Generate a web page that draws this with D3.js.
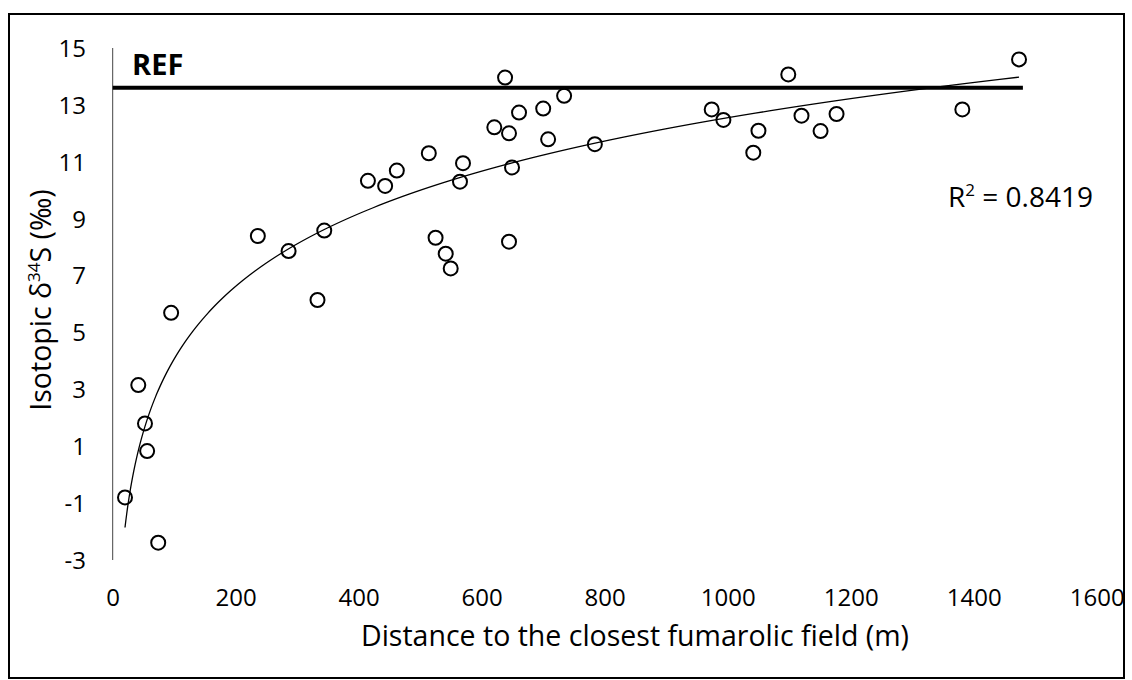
<!DOCTYPE html>
<html><head><meta charset="utf-8">
<script src="https://cdn.jsdelivr.net/npm/d3@7"></script>
<style>
html,body{margin:0;padding:0;background:#fff;}
text{font-family:"Open Sans",sans-serif;fill:#000;}
</style></head>
<body>
<svg id="chart" width="1132" height="680"></svg>
<script>
// ---- data ----
const distance = [20, 41.6, 52.5, 56, 74, 95, 236, 286, 333, 344, 415, 443, 462, 514, 525, 541.5, 549.6, 564.7, 569.6, 620.5, 638, 644.4, 644.4, 649.3, 660.7, 700, 708, 734, 784, 974, 993, 1041.6, 1050, 1098.5, 1120, 1151, 1177, 1381.5, 1473.7];
const delta34S = [-0.8, 3.15, 1.8, 0.83, -2.39, 5.69, 8.39, 7.86, 6.14, 8.58, 10.33, 10.15, 10.69, 11.3, 8.33, 7.77, 7.25, 10.3, 10.95, 12.21, 13.96, 12.0, 8.19, 10.8, 12.73, 12.87, 11.79, 13.32, 11.62, 12.84, 12.47, 11.32, 12.09, 14.07, 12.62, 12.08, 12.68, 12.84, 14.6];
const xTicks = [0, 200, 400, 600, 800, 1000, 1200, 1400, 1600];
const yTicks = [-3, -1, 1, 3, 5, 7, 9, 11, 13, 15];
const refValue = 13.6;
const refEndX = 1480;
const r2Label = "0.8419";

const svg = d3.select("#chart");
const x = d3.scaleLinear().domain([0, 1600]).range([112.7, 1096.7]);
const y = d3.scaleLinear().domain([-3, 15]).range([560, 48]);

// border
svg.append("rect").attr("x", 9).attr("y", 14).attr("width", 1115).attr("height", 664)
  .attr("fill", "none").attr("stroke", "#000").attr("stroke-width", 2);

// y axis line
svg.append("line").attr("x1", x(0)).attr("x2", x(0)).attr("y1", y(15)).attr("y2", y(-3))
  .attr("stroke", "#444").attr("stroke-width", 1);

const fmt = d => String(d);

// y ticks
const yAxis = d3.axisLeft(y).tickValues(yTicks).tickSize(0).tickPadding(0).tickFormat(fmt);
const gy = svg.append("g").attr("transform", "translate(86,0)").call(yAxis);
gy.select(".domain").remove();
gy.selectAll("text").style("font-family", '"Open Sans",sans-serif').style("font-size", "24px").attr("fill", "#000").attr("dy", "0.35em");

// x ticks
const xAxis = d3.axisBottom(x).tickValues(xTicks).tickSize(0).tickPadding(0).tickFormat(fmt);
const gx = svg.append("g").attr("transform", "translate(0,598)").call(xAxis);
gx.select(".domain").remove();
gx.selectAll("text").style("font-family", '"Open Sans",sans-serif').style("font-size", "24px").attr("fill", "#000").attr("dy", "0.35em");

// REF line
svg.append("line").attr("x1", x(0)).attr("x2", x(refEndX)).attr("y1", y(refValue)).attr("y2", y(refValue))
  .attr("stroke", "#000").attr("stroke-width", 4);
svg.append("text").attr("x", 132).attr("y", 75).attr("font-size", 29).attr("font-weight", "bold").text("REF");

// log trend (least squares y = a ln x + b)
const lx = distance.map(Math.log);
const mx = d3.mean(lx), my = d3.mean(delta34S);
let sxy = 0, sxx = 0;
lx.forEach((v, i) => { sxy += (v - mx) * (delta34S[i] - my); sxx += (v - mx) * (v - mx); });
const a = sxy / sxx, b = my - a * mx;
const xmin = d3.min(distance), xmax = d3.max(distance);
const trendX = d3.range(0, 201).map(i => xmin * Math.pow(xmax / xmin, i / 200));
svg.append("path").datum(trendX)
  .attr("d", d3.line().x(d => x(d)).y(d => y(a * Math.log(d) + b)))
  .attr("fill", "none").attr("stroke", "#000").attr("stroke-width", 1.3);

// points
svg.append("g").selectAll("circle").data(distance).join("circle")
  .attr("cx", d => x(d)).attr("cy", (d, i) => y(delta34S[i])).attr("r", 7)
  .attr("fill", "none").attr("stroke", "#000").attr("stroke-width", 2);

// R2 label
const r2 = svg.append("text").attr("x", 948).attr("y", 207).attr("font-size", 28);
r2.append("tspan").text("R");
r2.append("tspan").attr("dy", -11).attr("font-size", 17).text("2");
r2.append("tspan").attr("dy", 11).text(" = " + r2Label);

// axis titles
svg.append("text").attr("x", 635).attr("y", 646).attr("text-anchor", "middle").attr("font-size", 28.5)
  .text("Distance to the closest fumarolic field (m)");
const yt = svg.append("text").attr("transform", "translate(51,300) rotate(-90)").attr("text-anchor", "middle").attr("font-size", 28.5);
yt.append("tspan").text("Isotopic δ");
yt.append("tspan").attr("dy", -11).attr("font-size", 17).text("34");
yt.append("tspan").attr("dy", 11).text("S (‰)");
</script>
</body></html>
